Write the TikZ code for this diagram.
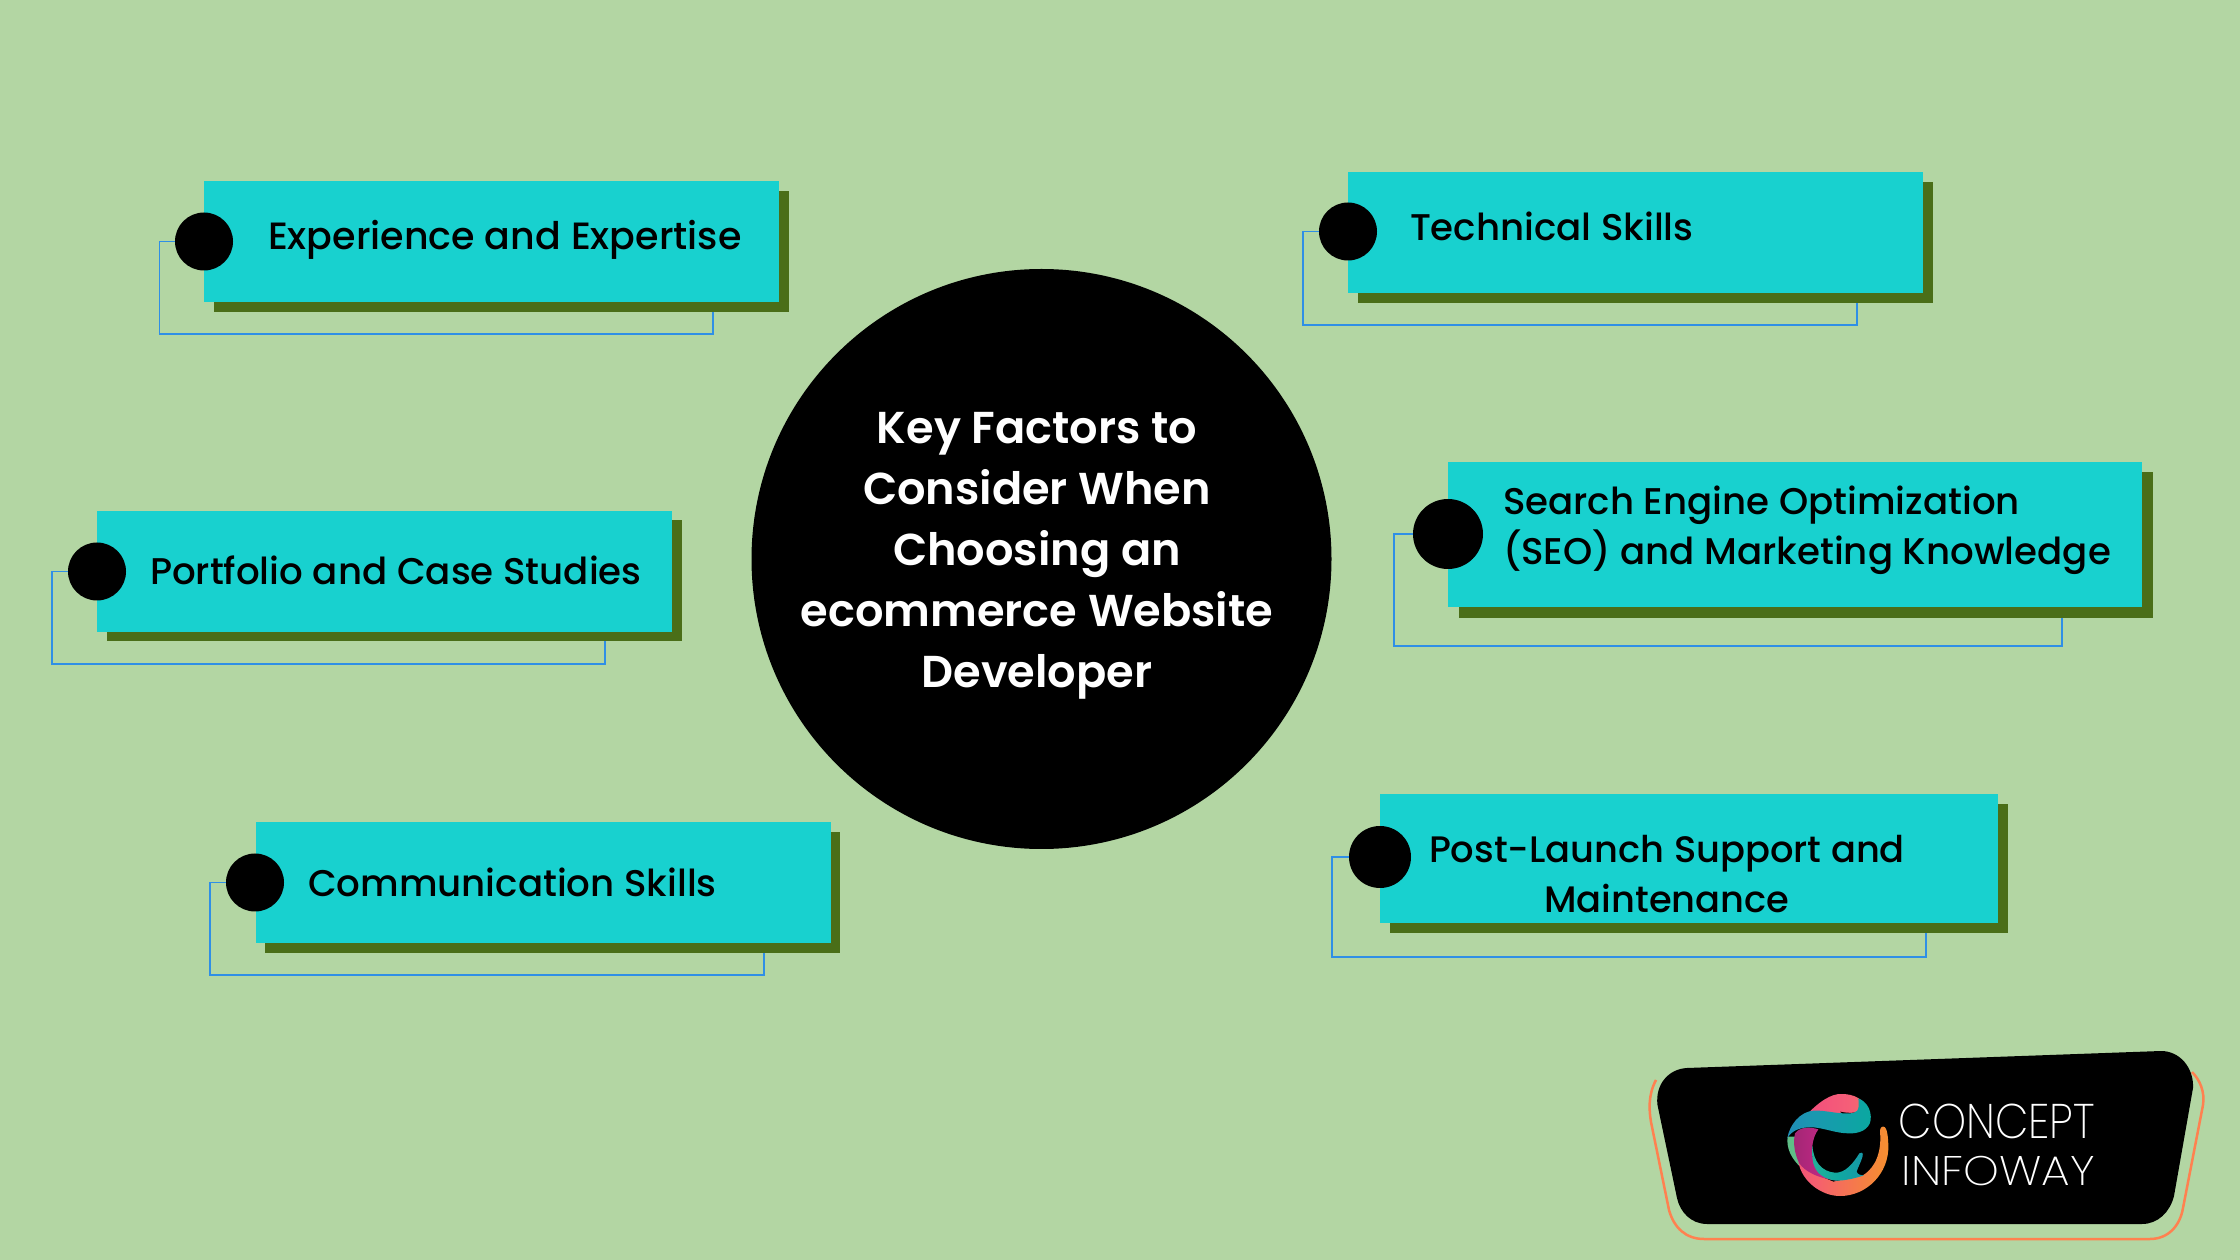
\documentclass[tikz,border=0pt]{standalone}
\usepackage{fontspec}
\setmainfont{Poppins}[UprightFont=* Medium]
\newfontfamily\hubfont{Poppins}[UprightFont=* SemiBold]
\newfontfamily\logofont{Poppins}[UprightFont=* ExtraLight]
\definecolor{pagebg}{HTML}{B3D6A3}
\definecolor{tealbox}{HTML}{18D1CF}
\definecolor{shadowgreen}{HTML}{4A6E18}
\definecolor{wireblue}{HTML}{2F8FE6}
\definecolor{logoorange}{HTML}{FF8150}
\definecolor{cresA}{HTML}{F0358E}\definecolor{cresB}{HTML}{F5606E}\definecolor{cresC}{HTML}{F58A35}\definecolor{cresD}{HTML}{FBAA1E}
\definecolor{lobeA}{HTML}{F0407F}\definecolor{lobeB}{HTML}{F55F78}\definecolor{lobeC}{HTML}{F78A40}
\definecolor{ribA}{HTML}{2C78C0}\definecolor{ribB}{HTML}{1A98B0}\definecolor{ribC}{HTML}{0AA8A0}\definecolor{ribD}{HTML}{30B090}
\definecolor{bandA}{HTML}{8C2468}\definecolor{bandB}{HTML}{B82880}\definecolor{bandC}{HTML}{E83090}
\definecolor{innA}{HTML}{35B890}\definecolor{innB}{HTML}{10A8A0}\definecolor{innC}{HTML}{1C88B0}
\definecolor{sliver}{HTML}{5FBE87}
\pgfdeclarehorizontalshading{crescentfill}{100bp}{color(0bp)=(cresA);color(35bp)=(cresB);color(70bp)=(cresC);color(100bp)=(cresD)}
\pgfdeclarehorizontalshading{lobefill}{100bp}{color(0bp)=(lobeA);color(60bp)=(lobeB);color(100bp)=(lobeC)}
\pgfdeclarehorizontalshading{ribbonfill}{100bp}{color(0bp)=(ribA);color(40bp)=(ribB);color(75bp)=(ribC);color(100bp)=(ribD)}
\pgfdeclarehorizontalshading{bandfill}{100bp}{color(0bp)=(bandA);color(50bp)=(bandB);color(100bp)=(bandC)}
\pgfdeclarehorizontalshading{innerfill}{100bp}{color(0bp)=(innA);color(50bp)=(innB);color(100bp)=(innC)}
\tikzset{
  x=0.3pt,y=-0.3pt,
  boxbase/.style={anchor=north west,inner sep=0pt,outer sep=0pt,minimum width=#1*0.3pt},
  factorbox/.style={boxbase=575,minimum height=121*0.3pt,fill=tealbox},
  factorshade/.style={boxbase=575,minimum height=121*0.3pt,fill=shadowgreen},
  dot/.style={circle,fill=black,inner sep=0pt,outer sep=0pt,minimum size=58*0.3pt},
  wire/.style={draw=wireblue,line width=0.4pt},
  cardtext/.style={anchor=base west,inner sep=0pt,outer sep=0pt,font=\fontsize{11.15pt}{15pt}\selectfont,text=black},
  hubtext/.style={anchor=base,inner sep=0pt,text=white,font=\hubfont\fontsize{13.4pt}{18.3pt}\selectfont},
}
\begin{document}
\begin{tikzpicture}
\useasboundingbox (0,0) rectangle (2240,1260);
\fill[pagebg] (0,0) rectangle (2240,1260);

% Shadows carry the lower edge that each outline runs up to
\node[factorshade] (s1) at (214,191) {};
\node[factorshade] (s2) at (1358,182) {};
\node[factorshade] (s3) at (107,520) {};
\node[factorshade] (s4) at (265,832) {};
\node[boxbase=694,minimum height=146*0.3pt,fill=shadowgreen] (s5) at (1459,472) {};
\node[boxbase=618,minimum height=129*0.3pt,fill=shadowgreen] (s6) at (1390,804) {};

% Bullets
\coordinate (d1) at (204,241.5);
\coordinate (d2) at (1348,231.5);
\coordinate (d3) at (97,571.5);
\coordinate (d4) at (255,882.5);
\coordinate (d5) at (1448,534);
\coordinate (d6) at (1380,857);

% Outlines behind each card
\coordinate (l1) at (159.5,334);   \coordinate (r1) at (713,334);
\coordinate (l2) at (1303,325);    \coordinate (r2) at (1857,325);
\coordinate (l3) at (52,664);      \coordinate (r3) at (605,664);
\coordinate (l4) at (210,975);     \coordinate (r4) at (764,975);
\coordinate (l5) at (1394,646);    \coordinate (r5) at (2062,646);
\coordinate (l6) at (1332,957);    \coordinate (r6) at (1926,957);
\foreach \i in {1,...,6}
  \draw[wire] (d\i) -| (l\i) -- (r\i) -- (r\i |- s\i.south);

% Cards
\node[factorbox] (b1) at (204,181) {};
\node[factorbox] (b2) at (1348,172) {};
\node[factorbox] (b3) at (97,511) {};
\node[factorbox] (b4) at (256,822) {};
\node[boxbase=694,minimum height=145*0.3pt,fill=tealbox] (b5) at (1448,462) {};
\node[boxbase=618,minimum height=129*0.3pt,fill=tealbox] (b6) at (1380,794) {};

\node[dot] (c1) at (d1) {};
\node[dot] (c2) at (d2) {};
\node[dot] (c3) at (d3) {};
\node[dot] (c4) at (d4) {};
\node[dot,minimum size=70*0.3pt] (c5) at (d5) {};
\node[dot,minimum size=62*0.3pt] (c6) at (d6) {};

% Card labels
\node[cardtext,font=\fontsize{11.4pt}{15pt}\selectfont] (t1) at (268,250) {Experience and Expertise};
\node[cardtext] (t2) at (1410,240.5) {Technical Skills};
\node[cardtext] (t3) at (150,585) {Portfolio and Case Studies};
\node[cardtext] (t4) at (308,896) {Communication Skills};
\node[cardtext] (t5a) at (1503,514.5) {Search Engine Optimization};
\node[cardtext] (t5b) at (1503,564.5) {(SEO) and Marketing Knowledge};
\node[cardtext,anchor=base,font=\fontsize{11.05pt}{15pt}\selectfont] (t6a) at (1667,862.5) {Post-Launch Support and};
\node[cardtext,anchor=base,font=\fontsize{11.05pt}{15pt}\selectfont] (t6b) at (1667,912.5) {Maintenance};

% Central disc
\node[circle,fill=black,inner sep=0pt,minimum size=580*0.3pt] (hub) at (1041.5,559) {};
\node[hubtext] (h1) at (1037,444) {Key Factors to};
\node[hubtext] (h2) at (1037,505) {Consider When};
\node[hubtext] (h3) at (1037,566) {Choosing an};
\node[hubtext] (h4) at (1037,627) {ecommerce Website};
\node[hubtext] (h5) at (1037,688) {Developer};

% Badge: outline, then the solid plate offset above it
\draw[logoorange,line width=0.75pt]
  (1656,1080) .. controls (1648,1095) and (1649,1110) .. (1651,1122)
  -- (1669,1210) .. controls (1674,1228) and (1686,1239) .. (1704,1239)
  -- (2150,1239) .. controls (2168,1239) and (2180,1226) .. (2183,1208)
  -- (2203,1105) .. controls (2205,1092) and (2200,1080) .. (2192,1072);
\fill[black]
  (1687,1068) -- (2161,1051)
  .. controls (2180,1051) and (2194,1068) .. (2193,1088)
  -- (2174,1196) .. controls (2170,1212) and (2158,1224) .. (2142,1224)
  -- (1707,1224) .. controls (1691,1224) and (1680,1212) .. (1677,1198)
  -- (1657.5,1105) .. controls (1655,1085) and (1668,1069) .. (1687,1068) -- cycle;

% Brand mark, plotted in a 3:1 local grid
\begin{scope}[shift={(1750,1070)},x=0.1pt,y=-0.1pt]
  \shade[shading=lobefill] (165,140) .. controls (205,95) and (245,70) .. (275,72)
    .. controls (310,72) and (345,85) .. (358,130) -- (330,150) -- (220,150) -- cycle;
  \fill[black] (270,125) .. controls (295,130) and (320,130) .. (330,122) -- (300,150) -- cycle;
  \fill[sliver] (113,200) .. controls (108,235) and (125,265) .. (148,288) -- (150,200) -- cycle;
  \shade[shading=crescentfill] (145,275) .. controls (155,335) and (215,378) .. (270,378)
    .. controls (350,378) and (418,310) .. (415,225)
    .. controls (414,200) and (412,180) .. (405,172)
    .. controls (398,166) and (389,172) .. (390,185)
    .. controls (395,240) and (380,290) .. (340,315)
    -- (250,335) -- (190,310) -- cycle;
  \shade[shading=bandfill] (135,190) .. controls (150,170) and (180,170) .. (205,178)
    .. controls (185,205) and (180,250) .. (195,285)
    .. controls (205,305) and (225,320) .. (262,332)
    .. controls (205,325) and (165,305) .. (148,280)
    .. controls (135,255) and (128,220) .. (135,190) -- cycle;
  \shade[shading=innerfill] (187,225) .. controls (190,275) and (215,305) .. (255,308)
    .. controls (285,310) and (310,280) .. (328,250)
    .. controls (332,244) and (341,248) .. (338,258)
    .. controls (334,275) and (322,295) .. (320,305)
    .. controls (322,313) and (332,316) .. (342,316)
    .. controls (315,325) and (285,332) .. (258,332)
    .. controls (225,328) and (198,312) .. (190,280)
    .. controls (186,262) and (185,245) .. (187,225) -- cycle;
  \shade[shading=ribbonfill] (112,205) .. controls (118,165) and (150,125) .. (190,122)
    .. controls (225,120) and (260,132) .. (295,130)
    .. controls (320,130) and (330,125) .. (325,85)
    .. controls (350,95) and (365,120) .. (362,150)
    .. controls (358,180) and (325,192) .. (295,190)
    .. controls (260,190) and (225,175) .. (190,172)
    .. controls (155,170) and (125,180) .. (112,205) -- cycle;
\end{scope}

% Wordmark
\node[anchor=base west,inner sep=0pt,text=white,font=\logofont\fontsize{14.6pt}{16pt}\selectfont] (w1) at (1898,1138) {\scalebox{0.89}[1]{CONCEPT}};
\node[anchor=base west,inner sep=0pt,text=white,font=\logofont\fontsize{12.4pt}{14pt}\selectfont] (w2) at (1901,1185) {\scalebox{1.1}[1]{INFOWAY}};
\end{tikzpicture}
\end{document}
